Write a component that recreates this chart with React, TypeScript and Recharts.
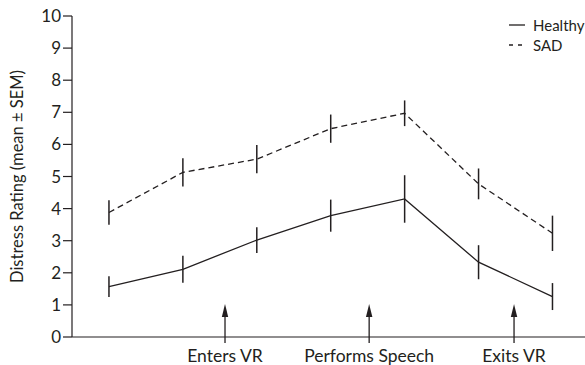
import React from "react";
import { LineChart, Line, XAxis, YAxis, ErrorBar } from "recharts";

// time points across the VR session
const timepoints = [1, 2, 3, 4, 5, 6, 7];
const healthyMean = [1.57, 2.11, 3.02, 3.78, 4.3, 2.33, 1.26];
const healthySem = [0.32, 0.42, 0.4, 0.5, 0.74, 0.53, 0.42];
const sadMean = [3.88, 5.13, 5.54, 6.49, 6.97, 4.77, 3.23];
const sadSem = [0.38, 0.44, 0.44, 0.44, 0.4, 0.48, 0.55];

const seriesNames = ["Healthy", "SAD"];
const eventPositions = [2.57, 4.52, 6.48];
const eventLabels = ["Enters VR", "Performs Speech", "Exits VR"];
const yTicks = [0, 1, 2, 3, 4, 5, 6, 7, 8, 9, 10];

const INK = "#231f20";
const FONT = "Lato, 'Open Sans', sans-serif";

const data = timepoints.map((t, i) => ({
  t,
  healthy: healthyMean[i],
  healthyErr: healthySem[i],
  sad: sadMean[i],
  sadErr: sadSem[i],
}));

function EventTick(props: any) {
  const { x, y, payload } = props;
  const idx = eventPositions.indexOf(payload.value);
  return (
    <g>
      <line x1={x} y1={y + 6} x2={x} y2={y - 21} stroke={INK} strokeWidth={1.3} />
      <polygon points={`${x},${y - 33} ${x - 3.2},${y - 20} ${x + 3.2},${y - 20}`} fill={INK} />
      <text x={x} y={y + 24.5} textAnchor="middle" style={{ fontSize: 17.5, fontFamily: FONT }} fill={INK}>
        {eventLabels[idx]}
      </text>
    </g>
  );
}

function YTick(props: any) {
  const { x, y, payload } = props;
  return (
    <text x={x} y={y} dy={6} textAnchor="end" fill={INK} style={{ fontSize: 17, fontFamily: FONT }}>
      {payload.value}
    </text>
  );
}

function LegendBox() {
  return (
    <div
      style={{
        position: "absolute",
        left: 509,
        top: 15,
        fontFamily: FONT,
        fontSize: 15,
        color: INK,
        lineHeight: "20px",
      }}
    >
      {seriesNames.map((name, i) => (
        <div key={name} style={{ display: "flex", alignItems: "center", height: 20 }}>
          <svg width={16} height={10} style={{ marginRight: 8 }}>
            <line
              x1={0}
              y1={5}
              x2={16}
              y2={5}
              stroke={INK}
              strokeWidth={1.3}
              strokeDasharray={i === 1 ? "4 5" : undefined}
            />
          </svg>
          <span>{name}</span>
        </div>
      ))}
    </div>
  );
}

export default function App() {
  return (
    <div style={{ position: "absolute", left: 0, top: 0, width: 585, height: 365, background: "#fff" }}>
      <LineChart width={585} height={365} data={data} margin={{ top: 16, right: 0, bottom: 27, left: 0 }}>
        <XAxis
          dataKey="t"
          type="number"
          domain={[0.5, 7.44]}
          ticks={eventPositions}
          tick={<EventTick />}
          tickLine={false}
          tickSize={0}
          tickMargin={0}
          height={1}
          axisLine={{ stroke: INK, strokeWidth: 1.2 }}
          interval={0}
          allowDataOverflow
        />
        <YAxis
          type="number"
          domain={[0, 10]}
          ticks={yTicks}
          width={72}
          tickSize={9}
          tickMargin={2}
          interval={0}
          axisLine={{ stroke: INK, strokeWidth: 1.2 }}
          tickLine={{ stroke: INK, strokeWidth: 1.2 }}
          tick={<YTick />}
          label={{
            value: "Distress Rating (mean \u00b1 SEM)",
            angle: -90,
            position: "center",
            dx: -19,
            fill: INK,
            style: { fontSize: 16.5, fontFamily: FONT },
          }}
        />
        <Line
          name={seriesNames[0]}
          dataKey="healthy"
          type="linear"
          stroke={INK}
          strokeWidth={1.3}
          dot={false}
          isAnimationActive={false}
        >
          <ErrorBar dataKey="healthyErr" direction="y" width={0} stroke={INK} strokeWidth={1.5} isAnimationActive={false} />
        </Line>
        <Line
          name={seriesNames[1]}
          dataKey="sad"
          type="linear"
          stroke={INK}
          strokeWidth={1.3}
          strokeDasharray="6 4"
          dot={false}
          isAnimationActive={false}
        >
          <ErrorBar dataKey="sadErr" direction="y" width={0} stroke={INK} strokeWidth={1.5} isAnimationActive={false} />
        </Line>
      </LineChart>
      <LegendBox />
    </div>
  );
}
